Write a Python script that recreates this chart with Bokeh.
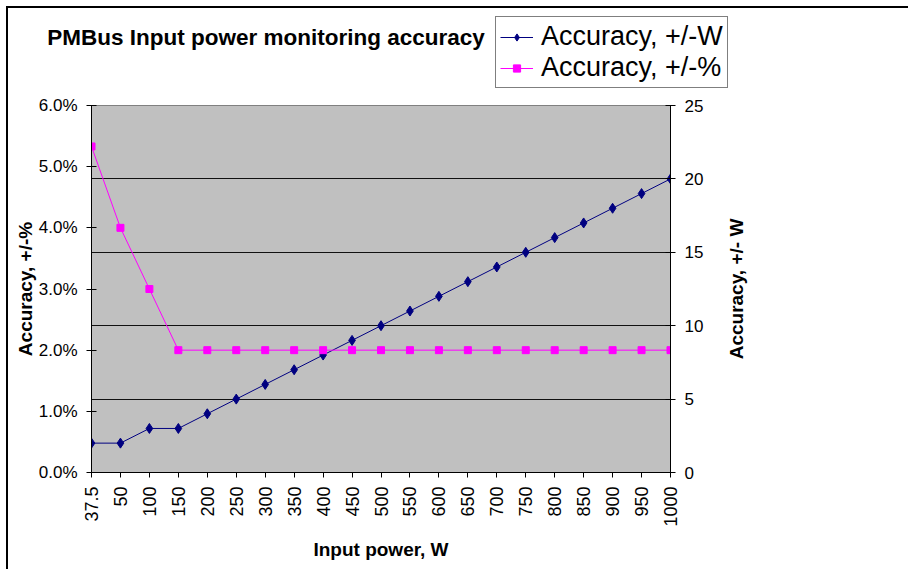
import math
from bokeh.plotting import figure
from bokeh.layouts import column, row
from bokeh.models import (Range1d, LinearAxis, FixedTicker, NumeralTickFormatter,
                          Legend, LegendItem, Label)
from bokeh.embed import file_html
from bokeh.resources import INLINE

# ---- data ----
power_labels = ["37.5", "50", "100", "150", "200", "250", "300", "350", "400", "450",
                "500", "550", "600", "650", "700", "750", "800", "850", "900", "950", "1000"]
acc_w = [2, 2, 3, 3, 4, 5, 6, 7, 8, 9, 10, 11, 12, 13, 14, 15, 16, 17, 18, 19, 20]
acc_pct = [0.0533, 0.040, 0.030, 0.020, 0.020, 0.020, 0.020, 0.020, 0.020, 0.020,
           0.020, 0.020, 0.020, 0.020, 0.020, 0.020, 0.020, 0.020, 0.020, 0.020, 0.020]
pct_ticks = [0.0, 0.01, 0.02, 0.03, 0.04, 0.05, 0.06]
w_ticks = [0, 5, 10, 15, 20, 25]
grid_w = [5, 10, 15, 20]
pct_max = 0.06
w_max = 25
title_text = "PMBus Input power monitoring accuracy"
series_names = ["Accuracy, +/-W", "Accuracy, +/-%"]
right_axis_title = "Accuracy, +/- W"

FONT = "Liberation Sans"
NAVY = "#000080"
MAGENTA = "#FF00FF"

idx = list(range(len(power_labels)))


def no_align(fig):
    if "frame_align" in fig.properties():
        fig.frame_align = False


def blank(fig):
    fig.xgrid.visible = False
    fig.ygrid.visible = False
    fig.outline_line_color = None
    fig.background_fill_color = "white"
    fig.border_fill_color = "white"


# ---------------- header (title + legend) ----------------
# its ranges lie outside the data, so the proxy series only feed the legend
head = figure(width=900, height=81, min_border=0,
              x_range=Range1d(-3, -2), y_range=Range1d(-3, -2),
              x_axis_location=None, y_axis_location=None,
              output_backend="svg", toolbar_location=None)
no_align(head)
blank(head)

hl_w = head.line(idx, acc_w, line_color=NAVY, line_width=1)
hs_w = head.scatter(idx, acc_w, marker="diamond", size=10, fill_color=NAVY, line_color=NAVY)
hl_p = head.line(idx, acc_pct, line_color=MAGENTA, line_width=1)
hs_p = head.scatter(idx, acc_pct, marker="square", size=7, fill_color=MAGENTA, line_color=MAGENTA)

legend = Legend(items=[LegendItem(label=series_names[0], renderers=[hl_w, hs_w]),
                       LegendItem(label=series_names[1], renderers=[hl_p, hs_p])],
                location=(487, 1), orientation="vertical")
legend.border_line_color = "black"
legend.border_line_width = 1
legend.background_fill_color = "white"
legend.background_fill_alpha = 1
legend.padding = 4
legend.margin = 0
legend.spacing = 0
legend.glyph_width = 33
legend.glyph_height = 18
legend.label_height = 18
legend.label_standoff = 8
legend.label_text_font = FONT
legend.label_text_font_size = "27px"
legend.label_text_color = "black"
head.add_layout(legend)

title = Label(x=38.7, y=52, x_units="screen", y_units="screen", text=title_text,
              text_font=FONT, text_font_size="22.5px", text_font_style="bold",
              text_color="black", text_baseline="alphabetic", text_align="left")
head.add_layout(title)

# ---------------- main chart ----------------
p = figure(frame_width=579, frame_height=367,
           min_border_left=83, min_border_right=40,
           min_border_top=16, min_border_bottom=97,
           x_range=Range1d(0, len(idx) - 1), y_range=Range1d(0, pct_max),
           output_backend="svg", toolbar_location=None)
no_align(p)
p.extra_y_ranges = {"w": Range1d(0, w_max)}

p.background_fill_color = "#C0C0C0"
p.border_fill_color = "white"
p.outline_line_color = "#808080"
p.outline_line_width = 1

p.xgrid.visible = False
p.ygrid.ticker = FixedTicker(ticks=[g * pct_max / w_max for g in grid_w])
p.ygrid.grid_line_color = "#111111"
p.ygrid.grid_line_width = 1

xa = p.xaxis[0]
xa.ticker = FixedTicker(ticks=idx)
xa.major_label_overrides = {i: lab for i, lab in zip(idx, power_labels)}
xa.major_label_orientation = math.pi / 2
xa.major_tick_in = 0
xa.major_tick_out = 5
xa.minor_tick_line_color = None
xa.axis_label = "Input power, W"
xa.major_label_standoff = 9
xa.axis_label_standoff = 9

ya = p.yaxis[0]
ya.ticker = FixedTicker(ticks=pct_ticks)
ya.formatter = NumeralTickFormatter(format="0.0%")
ya.major_tick_in = 5
ya.major_tick_out = 5
ya.minor_tick_line_color = None
ya.axis_label = "Accuracy, +/-%"
ya.major_label_standoff = 9
ya.axis_label_standoff = 0

ra = LinearAxis(y_range_name="w", ticker=FixedTicker(ticks=w_ticks))
ra.major_tick_in = 5
ra.major_tick_out = 5
ra.minor_tick_line_color = None
ra.major_label_standoff = 9
p.add_layout(ra, "right")

for ax in (xa, ya, ra):
    ax.axis_line_color = "black"
    ax.major_tick_line_color = "black"
    ax.major_label_text_font = FONT
    ax.major_label_text_font_size = "17px"
    ax.major_label_text_color = "black"
    ax.axis_label_text_font = FONT
    ax.axis_label_text_font_size = "19px"
    ax.axis_label_text_font_style = "bold"
    ax.axis_label_text_color = "black"
xa.major_label_text_font_size = "18px"

p.line(idx, acc_w, y_range_name="w", line_color=NAVY, line_width=1)
p.scatter(idx, acc_w, y_range_name="w", marker="diamond", size=10,
          fill_color=NAVY, line_color=NAVY)
p.line(idx, acc_pct, line_color=MAGENTA, line_width=1)
p.scatter(idx, acc_pct, marker="square", size=7,
          fill_color=MAGENTA, line_color=MAGENTA)

# ---------------- right-axis title (reads bottom to top, centred on the axis) ----------------
side = figure(width=198, height=480, min_border=0,
              x_range=Range1d(0, 1), y_range=Range1d(0, 1),
              x_axis_location=None, y_axis_location=None,
              output_backend="svg", toolbar_location=None)
no_align(side)
blank(side)
side.add_layout(Label(x=26, y=480 - (16 + 367 / 2), x_units="screen", y_units="screen",
                      text=right_axis_title, angle=math.pi / 2,
                      text_font=FONT, text_font_size="19px", text_font_style="bold",
                      text_color="black", text_align="center", text_baseline="middle"))

lay = column(head, row(p, side, spacing=0), spacing=0,
             styles={"margin-top": "6px", "margin-left": "6px",
                     "border-top": "2px solid black", "border-left": "2px solid black"})

open("out.html", "w").write(file_html(lay, INLINE))
